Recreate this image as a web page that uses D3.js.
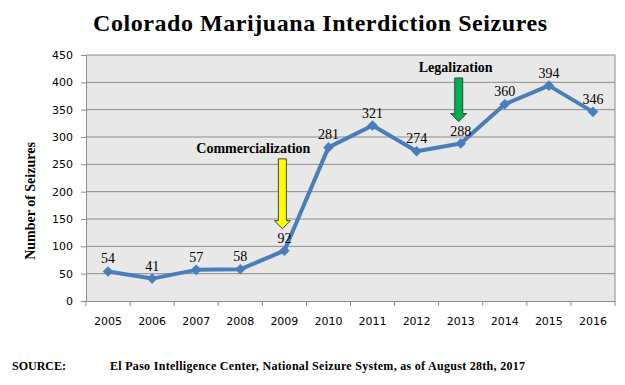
<!DOCTYPE html>
<html>
<head>
<meta charset="utf-8">
<script src="https://cdn.jsdelivr.net/npm/d3@7"></script>
<style>
  body { margin: 0; background: #fff; }
  svg { display: block; }
  .serif { font-family: "Liberation Serif", "DejaVu Serif", serif; }
  .tick text { font-family: "DejaVu Sans", sans-serif; font-size: 11px; fill: #000; }
</style>
</head>
<body>
<svg id="chart" width="625" height="385"></svg>
<script>
// Data

const years = ["2005", "2006", "2007", "2008", "2009", "2010", "2011", "2012", "2013", "2014", "2015", "2016"];
const seizures = [54, 41, 57, 58, 92, 281, 321, 274, 288, 360, 394, 346];
const yTicks = [0, 50, 100, 150, 200, 250, 300, 350, 400, 450];

const events = [
    { year: "2009", label: "Commercialization", color: "#ffff00", from: 260, dx: -29 },
    { year: "2013", label: "Legalization", color: "#00b050", from: 408, dx: -3 }
];

// Layout

const svg = d3.select('#chart');
const margin = { left: 86, right: 10, top: 55, bottom: 84 };
const width = 625 - margin.left - margin.right;
const height = 385 - margin.top - margin.bottom;

const x = d3.scaleBand().domain(years).range([0, width]);
const y = d3.scaleLinear().domain([0, 450]).range([height, 0]);

svg.append('text')
    .attr('class', 'serif')
    .attr('x', 320).attr('y', 31)
    .attr('text-anchor', 'middle')
    .attr('font-size', 24).attr('font-weight', 'bold')
    .attr('textLength', 454).attr('lengthAdjust', 'spacing')
    .text('Colorado Marijuana Interdiction Seizures');

const g = svg.append('g').attr('transform', `translate(${margin.left},${margin.top})`);

g.append('rect')
    .attr('width', width).attr('height', height)
    .attr('fill', '#e8e8e8');

// Gridlines

g.selectAll('line.grid')
    .data(yTicks.filter(t => t > 0))
    .join('line')
    .attr('class', 'grid')
    .attr('x1', 0).attr('x2', width)
    .attr('y1', d => y(d)).attr('y2', d => y(d))
    .attr('stroke', '#8c8c8c').attr('stroke-width', 1);

g.append('line')
    .attr('x1', width).attr('x2', width)
    .attr('y1', 0).attr('y2', height)
    .attr('stroke', '#8c8c8c');

// Axes

const yAxis = g.append('g')
    .call(d3.axisLeft(y).tickValues(yTicks).tickSize(5).tickPadding(8));
yAxis.select('.domain').attr('stroke', '#8c8c8c');
yAxis.selectAll('.tick line').attr('stroke', '#8c8c8c');

const xAxis = g.append('g')
    .attr('transform', `translate(0,${height})`)
    .call(d3.axisBottom(x).tickSize(0).tickPadding(16));
xAxis.select('.domain').attr('stroke', '#8c8c8c');

xAxis.selectAll('line.sep')
    .data(d3.range(years.length + 1))
    .join('line')
    .attr('class', 'sep')
    .attr('x1', i => i * x.step()).attr('x2', i => i * x.step())
    .attr('y1', 0).attr('y2', 5)
    .attr('stroke', '#8c8c8c');

svg.append('text')
    .attr('class', 'serif')
    .attr('transform', 'translate(35,201) rotate(-90)')
    .attr('text-anchor', 'middle')
    .attr('font-size', 14).attr('font-weight', 'bold')
    .text('Number of Seizures');

// Series

const cx = d => x(d) + x.bandwidth() / 2;

g.append('path')
    .datum(years.map((yr, i) => [cx(yr), y(seizures[i])]))
    .attr('d', d3.line())
    .attr('fill', 'none')
    .attr('stroke', '#4a7ebb')
    .attr('stroke-width', 4)
    .attr('stroke-linejoin', 'round');

g.selectAll('path.marker')
    .data(years)
    .join('path')
    .attr('class', 'marker')
    .attr('d', d3.symbol(d3.symbolSquare, 56))
    .attr('transform', (yr, i) => `translate(${cx(yr)},${y(seizures[i])}) rotate(45)`)
    .attr('fill', '#4a7ebb');

g.selectAll('text.val')
    .data(years)
    .join('text')
    .attr('class', 'val serif')
    .attr('x', yr => cx(yr))
    .attr('y', (yr, i) => y(seizures[i]) - 8)
    .attr('text-anchor', 'middle')
    .attr('font-size', 14)
    .text((yr, i) => seizures[i]);

// Event arrows

events.forEach(ev => {
    const i = years.indexOf(ev.year);
    const ax = cx(ev.year) - 2;
    const tip = y(seizures[i]) - 22;
    const top = y(ev.from);
    const shaft = 4, head = 8, headLen = 8;
    const pts = [
        [ax - shaft, top], [ax + shaft, top], [ax + shaft, tip - headLen],
        [ax + head, tip - headLen], [ax, tip], [ax - head, tip - headLen],
        [ax - shaft, tip - headLen]
    ];
    g.append('polygon')
        .attr('points', pts.map(p => p.join(',')).join(' '))
        .attr('fill', ev.color)
        .attr('stroke', '#404040').attr('stroke-width', 1);

    g.append('text')
        .attr('class', 'serif')
        .attr('x', ax + ev.dx)
        .attr('y', top - 6)
        .attr('text-anchor', 'middle')
        .attr('font-size', 14).attr('font-weight', 'bold')
        .text(ev.label);
});

// Source

svg.append('text')
    .attr('class', 'serif')
    .attr('x', 12).attr('y', 370)
    .attr('font-size', 12).attr('font-weight', 'bold')
    .text('SOURCE:');

svg.append('text')
    .attr('class', 'serif')
    .attr('x', 110).attr('y', 370)
    .attr('font-size', 12).attr('font-weight', 'bold')
    .attr('textLength', 415).attr('lengthAdjust', 'spacing')
    .text('El Paso Intelligence Center, National Seizure System, as of August 28th, 2017');
</script>
</body>
</html>
